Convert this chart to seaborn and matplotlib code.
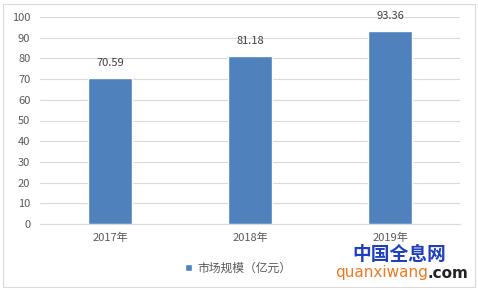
import matplotlib
matplotlib.use("Agg")
import matplotlib.pyplot as plt
import seaborn as sns
import pandas as pd
from matplotlib.patches import Rectangle

categories = ["2017年", "2018年", "2019年"]
values = [70.59, 81.18, 93.36]
series_name = "市场规模（亿元）"
yticks = [0, 10, 20, 30, 40, 50, 60, 70, 80, 90, 100]

sns.set_style("white")
plt.rcParams['font.family'] = ['Noto Sans CJK SC', 'DejaVu Sans']

df = pd.DataFrame({"year": categories, "value": values})

fig = plt.figure(figsize=(4.78, 2.90), dpi=100)
ax = fig.add_axes([40/478, 1-224/290, 420/478, 207/290])

sns.barplot(data=df, x="year", y="value", color="#4f81bd", width=0.31,
            saturation=1, ax=ax, label=series_name, zorder=3)

ax.set_ylim(0, 100)
ax.set_yticks(yticks)
ax.set_xlim(-0.5, 2.5)
ax.set_xlabel("")
ax.set_ylabel("")
ax.grid(axis="y", color="#d9d9d9", linewidth=0.8, zorder=0)
for s in ["top", "right", "left"]:
    ax.spines[s].set_visible(False)
ax.spines["bottom"].set_color("#d9d9d9")
ax.tick_params(axis="both", length=0, labelsize=8, colors="#595959", pad=7)
ax.tick_params(axis="x", pad=6)

for i, v in enumerate(values):
    ax.annotate(f"{v:.2f}", (i, v), xytext=(0, 7), textcoords="offset points",
                ha="center", va="bottom", fontsize=8, color="#404040")

leg = ax.legend(loc="center", bbox_to_anchor=(238/478, 1-268/290),
                bbox_transform=fig.transFigure, frameon=False, fontsize=8.5,
                handlelength=0.6, handleheight=0.6, handletextpad=0.4)
for t in leg.get_texts():
    t.set_color("#595959")

fig.patches.append(Rectangle((3/478, 3/290), 472/478, 283/290, transform=fig.transFigure,
                             fill=False, edgecolor="#d9d9d9", linewidth=0.8))

fig.text(399/478, 1-255/290, "中国全息网", ha="center", va="center", fontsize=13.5,
         color="#1f3fbf", fontweight="bold")
t1 = fig.text(335/478, 1-273/290, "quanxiwang", ha="left", va="center", fontsize=11,
              color="#f07820", family=["DejaVu Sans"])
ax.annotate(".com", xy=(1, 0.5), xycoords=t1, ha="left", va="center", fontsize=11,
            color="#222222", fontweight="bold", family=["DejaVu Sans"], annotation_clip=False)

fig.savefig("out.png", dpi=100)
